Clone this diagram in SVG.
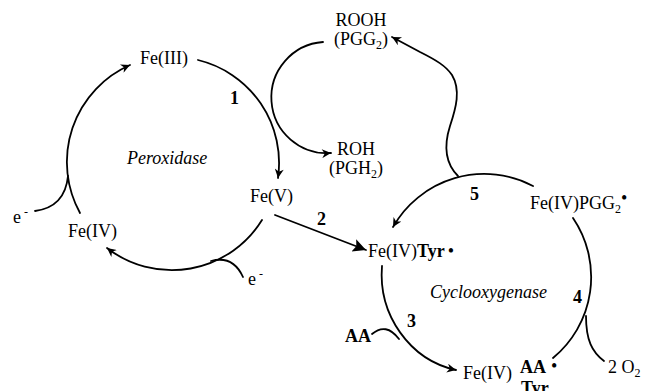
<svg xmlns="http://www.w3.org/2000/svg" width="645" height="391" viewBox="0 0 645 391">
  <defs>
    <style>
      .t { font-family: "Liberation Serif", "Times New Roman", serif; font-size: 18px; fill: #000; }
      .b { font-weight: bold; }
      .i { font-style: italic; }
      .sub { font-size: 12px; }
      .ln { fill: none; stroke: #000; stroke-width: 1.8; stroke-linecap: round; }
    </style>
    <marker id="ah" viewBox="0 0 10 10" refX="10" refY="5" markerWidth="12" markerHeight="9" markerUnits="userSpaceOnUse" orient="auto">
      <path d="M0,0 L10,5 L0,10 L3,5 z" fill="#000"/>
    </marker>
    <marker id="ahBig" viewBox="0 0 10 10" refX="10" refY="5" markerWidth="26" markerHeight="13" markerUnits="userSpaceOnUse" orient="auto">
      <path d="M0,0 L10,5 L0,10 L2,5 z" fill="#000"/>
    </marker>
  </defs>

  <!-- connectors -->
  <g id="connectors">
    <!-- peroxidase cycle -->
    <path class="ln" d="M198,60 A106,106 0 0,1 278,178" marker-end="url(#ah)"/>
    <path class="ln" d="M262,220 A106,106 0 0,1 107,248" marker-end="url(#ah)"/>
    <path class="ln" d="M80,213 A106,106 0 0,1 130,65" marker-end="url(#ah)"/>
    <path class="ln" d="M35,211 Q65,207 68,176"/>
    <path class="ln" d="M243,277 Q233,255 211,261"/>
    <!-- step 2 -->
    <path class="ln" d="M275,215 L366,250" marker-end="url(#ahBig)"/>
    <!-- ROOH -> ROH loop -->
    <path class="ln" d="M323,42 A55,55 0 1,0 331,153" marker-end="url(#ah)"/>
    <!-- PGG2 release -->
    <path class="ln" d="M458,176 C446,164 443,148 450,126 C456,108 461,90 452,75 C446,66 436,60 420,52 L392,37" marker-end="url(#ah)"/>
    <!-- cyclooxygenase cycle -->
    <path class="ln" d="M533,186 A105,105 0 0,0 393,227" marker-end="url(#ah)"/>
    <path class="ln" d="M382,266 C378,315 410,360 456,370" marker-end="url(#ah)"/>
    <path class="ln" d="M372,334 Q386,322 399,339"/>
    <path class="ln" d="M573,218 A105,105 0 0,1 553,358"/>
    <path class="ln" d="M586,316 C586,340 592,352 604,361"/>
  </g>

  <!-- nodes -->
  <g id="fe3"><text class="t" x="140" y="64">Fe(III)</text></g>
  <g id="fe5"><text class="t" x="250" y="202">Fe(V)</text></g>
  <g id="fe4-perox"><text class="t" x="68" y="237">Fe(IV)</text></g>
  <g id="peroxidase"><text class="t i" x="127" y="164">Peroxidase</text></g>
  <g id="e-left"><text class="t" x="13" y="223">e<tspan class="sub" dx="3" dy="-7">-</tspan></text></g>
  <g id="e-bottom"><text class="t" x="248" y="285">e<tspan class="sub" dx="3" dy="-7">-</tspan></text></g>
  <g id="rooh">
    <text class="t" x="361" y="26" text-anchor="middle">ROOH</text>
    <text class="t" x="361" y="45" text-anchor="middle">(PGG<tspan class="sub" dy="4">2</tspan><tspan dy="-4">)</tspan></text>
  </g>
  <g id="roh">
    <text class="t" x="356" y="155" text-anchor="middle">ROH</text>
    <text class="t" x="356" y="174" text-anchor="middle">(PGH<tspan class="sub" dy="4">2</tspan><tspan dy="-4">)</tspan></text>
  </g>
  <g id="fe4-tyr"><text class="t" x="368" y="257">Fe(IV)<tspan class="b">Tyr</tspan><tspan dx="3">•</tspan></text></g>
  <g id="fe4-pgg2"><text class="t" x="530" y="209">Fe(IV)PGG<tspan class="sub" dy="4">2</tspan><tspan dy="-9">•</tspan></text></g>
  <g id="cyclooxygenase"><text class="t i" x="430" y="298">Cyclooxygenase</text></g>
  <g id="aa"><text class="t b" x="345" y="342">AA</text></g>
  <g id="fe4-aa-tyr">
    <text class="t" x="463" y="379">Fe(IV)</text>
    <text class="t b" x="520" y="373">AA</text>
    <text class="t b" x="521" y="394">Tyr</text>
    <text class="t" x="551" y="372">•</text>
  </g>
  <g id="o2"><text class="t" x="608" y="373">2 O<tspan class="sub" dy="4">2</tspan></text></g>

  <!-- step labels -->
  <g id="labels">
    <text class="t b" x="230" y="104">1</text>
    <text class="t b" x="317" y="225">2</text>
    <text class="t b" x="407" y="327">3</text>
    <text class="t b" x="573" y="303">4</text>
    <text class="t b" x="470" y="200">5</text>
  </g>
</svg>
